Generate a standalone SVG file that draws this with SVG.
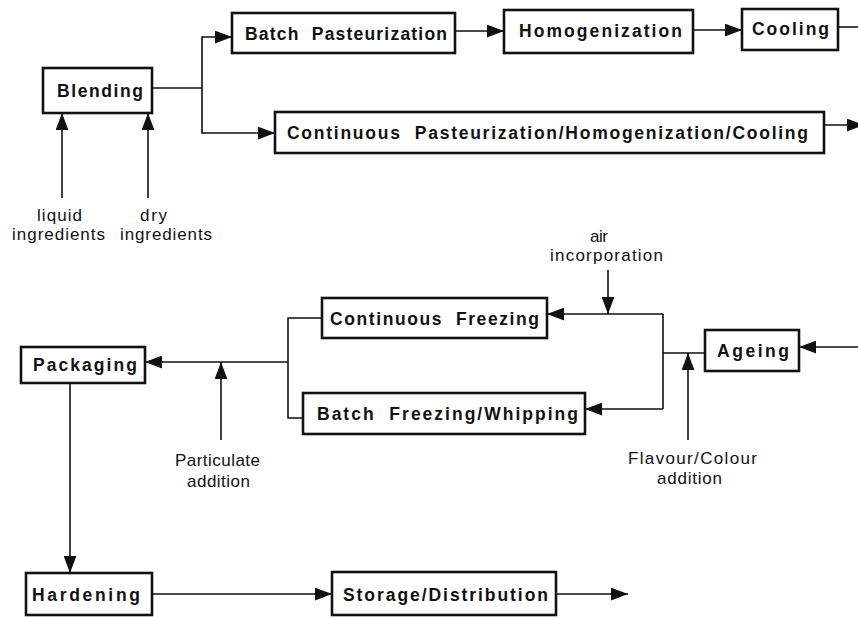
<svg xmlns="http://www.w3.org/2000/svg" width="858" height="617" viewBox="0 0 858 617">
<style>
.box rect{fill:#fff;stroke:#111;stroke-width:2.6}
.box text{font-family:"Liberation Sans",Arial,sans-serif;font-weight:bold;font-size:17.5px;fill:#111}
.lbl{font-family:"Liberation Sans",Arial,sans-serif;font-size:17px;fill:#111}
#connectors path{fill:none;stroke:#111;stroke-width:1.6}
</style>
<defs>
<marker id="ah" viewBox="0 0 16 12" refX="16" refY="6" markerWidth="17" markerHeight="13" markerUnits="userSpaceOnUse" orient="auto">
<path d="M0,0 L16,6 L0,12 z" fill="#111"/>
</marker>
</defs>
<rect width="858" height="617" fill="#fff"/>
<g id="connectors">
<path d="M152,88 H202"/>
<path d="M202,88 V37 H232" marker-end="url(#ah)"/>
<path d="M202,88 V133 H275" marker-end="url(#ah)"/>
<path d="M455,31 H504" marker-end="url(#ah)"/>
<path d="M693,30 H742" marker-end="url(#ah)"/>
<path d="M838,27 H858"/>
<path d="M824,125 H864" marker-end="url(#ah)"/>
<path d="M62,198 V113" marker-end="url(#ah)"/>
<path d="M148,198 V113" marker-end="url(#ah)"/>
<path d="M858,347 H799" marker-end="url(#ah)"/>
<path d="M705,353 H663"/>
<path d="M663,314 V409"/>
<path d="M663,314 H547" marker-end="url(#ah)"/>
<path d="M663,409 H585" marker-end="url(#ah)"/>
<path d="M608,270 V314" marker-end="url(#ah)"/>
<path d="M688,440 V353" marker-end="url(#ah)"/>
<path d="M322,318 H288 V418 H303"/>
<path d="M288,362 H145" marker-end="url(#ah)"/>
<path d="M221,440 V362" marker-end="url(#ah)"/>
<path d="M70,383 V573" marker-end="url(#ah)"/>
<path d="M152,594 H332" marker-end="url(#ah)"/>
<path d="M556,594 H628" marker-end="url(#ah)"/>
</g>
<g id="batch-pasteurization" class="box"><rect x="232" y="13" width="223" height="40"/><text x="245" y="40" textLength="202" lengthAdjust="spacing" xml:space="preserve">Batch  Pasteurization</text></g>
<g id="homogenization" class="box"><rect x="504" y="10" width="189" height="43"/><text x="519" y="37" textLength="163" lengthAdjust="spacing">Homogenization</text></g>
<g id="cooling" class="box"><rect x="742" y="9" width="96" height="41"/><text x="752" y="35" textLength="77" lengthAdjust="spacing">Cooling</text></g>
<g id="blending" class="box"><rect x="43" y="68" width="109" height="45"/><text x="57" y="97" textLength="86" lengthAdjust="spacing">Blending</text></g>
<g id="continuous-phc" class="box"><rect x="275" y="112" width="549" height="41"/><text x="287" y="139" textLength="521" lengthAdjust="spacing" xml:space="preserve">Continuous  Pasteurization/Homogenization/Cooling</text></g>
<g id="continuous-freezing" class="box"><rect x="322" y="298" width="225" height="40"/><text x="330" y="325" textLength="209" lengthAdjust="spacing" xml:space="preserve">Continuous  Freezing</text></g>
<g id="batch-freezing" class="box"><rect x="303" y="393" width="282" height="41"/><text x="317" y="420" textLength="261" lengthAdjust="spacing" xml:space="preserve">Batch  Freezing/Whipping</text></g>
<g id="ageing" class="box"><rect x="705" y="330" width="94" height="41"/><text x="717" y="357" textLength="72" lengthAdjust="spacing">Ageing</text></g>
<g id="packaging" class="box"><rect x="21" y="347" width="124" height="36"/><text x="33" y="371" textLength="104" lengthAdjust="spacing">Packaging</text></g>
<g id="hardening" class="box"><rect x="26" y="573" width="126" height="42"/><text x="32" y="601" textLength="108" lengthAdjust="spacing">Hardening</text></g>
<g id="storage" class="box"><rect x="332" y="572" width="224" height="43"/><text x="343" y="601" textLength="205" lengthAdjust="spacing">Storage/Distribution</text></g>
<g id="labels">
<text class="lbl" x="37" y="221" textLength="45" lengthAdjust="spacing">liquid</text>
<text class="lbl" x="12" y="240" textLength="93" lengthAdjust="spacing">ingredients</text>
<text class="lbl" x="140" y="221" textLength="27" lengthAdjust="spacing">dry</text>
<text class="lbl" x="120" y="240" textLength="92" lengthAdjust="spacing">ingredients</text>
<text class="lbl" x="590" y="242" textLength="18" lengthAdjust="spacing">air</text>
<text class="lbl" x="550" y="261" textLength="113" lengthAdjust="spacing">incorporation</text>
<text class="lbl" x="175" y="466" textLength="85" lengthAdjust="spacing">Particulate</text>
<text class="lbl" x="187" y="487" textLength="63" lengthAdjust="spacing">addition</text>
<text class="lbl" x="628" y="464" textLength="129" lengthAdjust="spacing">Flavour/Colour</text>
<text class="lbl" x="657" y="484" textLength="65" lengthAdjust="spacing">addition</text>
</g>
</svg>
